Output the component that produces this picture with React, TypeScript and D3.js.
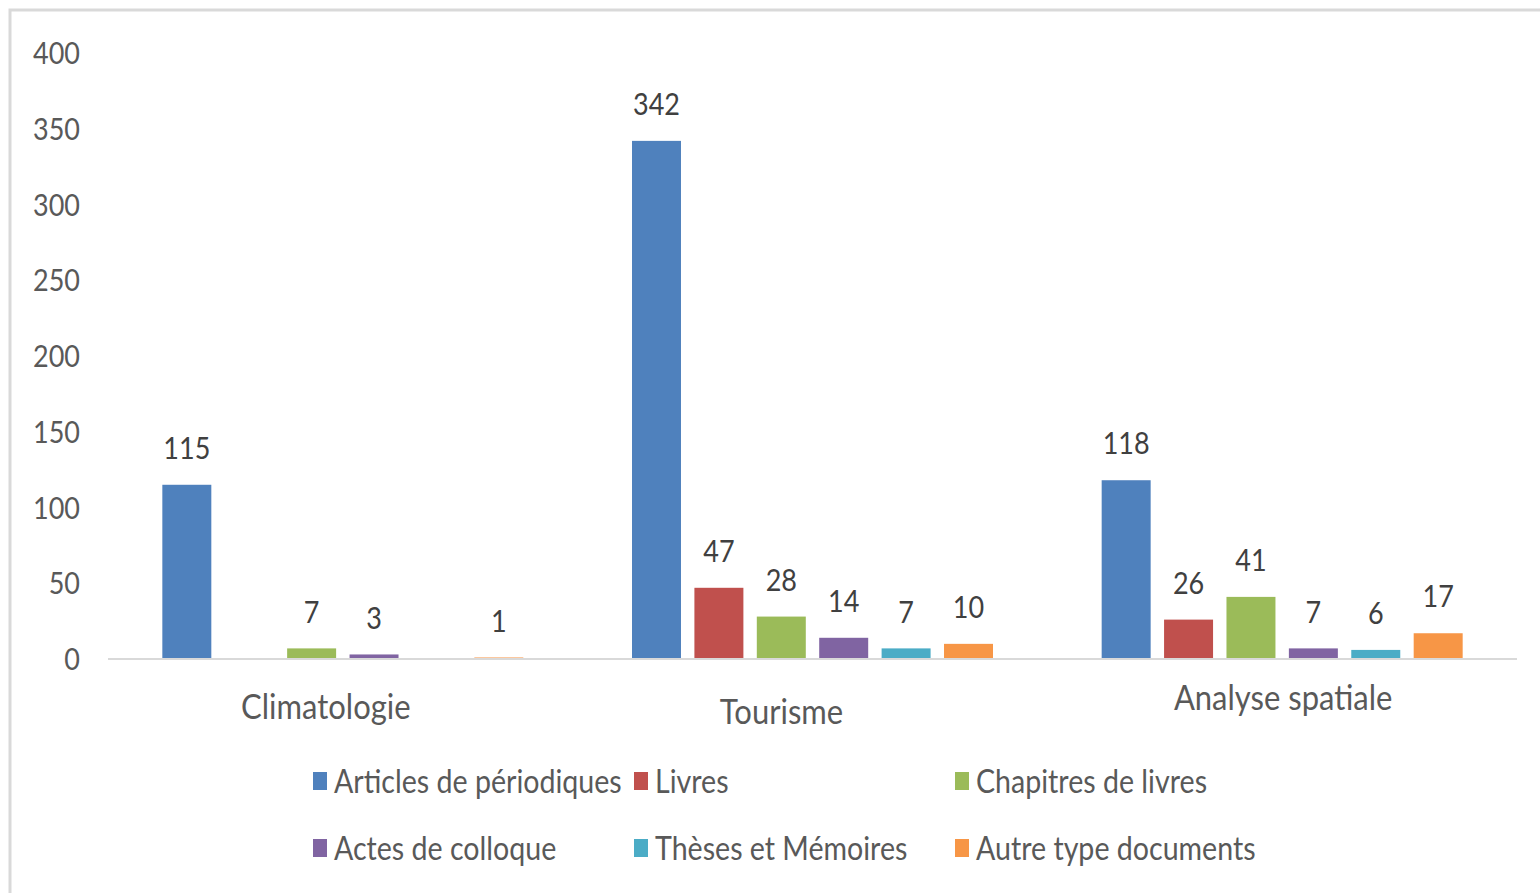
import React from "react";
import * as d3 from "d3";

const categories = ["Climatologie", "Tourisme", "Analyse spatiale"];
const seriesNames = [
  "Articles de périodiques",
  "Livres",
  "Chapitres de livres",
  "Actes de colloque",
  "Thèses et Mémoires",
  "Autre type documents",
];
const articles = [115, 342, 118];
const livres = [null, 47, 26];
const chapitres = [7, 28, 41];
const actes = [3, 14, 7];
const theses = [null, 7, 6];
const autres = [1, 10, 17];
const yTicks = [0, 50, 100, 150, 200, 250, 300, 350, 400];

const seriesValues = [articles, livres, chapitres, actes, theses, autres];
const colors = ["#4F81BD", "#C0504D", "#9BBB59", "#8064A2", "#4BACC6", "#F79646"];
const catLabelNudge = [
  [-17, 47],
  [-31, 52],
  [1, 38],
];

const W = 1540;
const H = 893;
const FONT = "Lato, 'Open Sans', sans-serif";
const TEXT = "#595959";

export default function App() {
  const x0 = d3.scaleBand<string>().domain(categories).range([108, 1517]).paddingInner(0).paddingOuter(0);
  const groupW = 361;
  const x1 = d3
    .scaleBand<number>()
    .domain(d3.range(seriesNames.length))
    .range([0, groupW])
    .paddingInner(0.215)
    .paddingOuter(0);
  const y = d3.scaleLinear().domain([0, 400]).range([659, 53]);
  const baseY = y(0);

  return (
    <svg
      width={W}
      height={H}
      style={{ position: "absolute", left: 0, top: 0, background: "#fff" }}
      fontFamily={FONT}
    >
      <rect x={0} y={0} width={W} height={H} fill="#fff" />
      <path d={`M10,${H} V10 H${W}`} fill="none" stroke="#d9d9d9" strokeWidth={3} />

      {yTicks.map((t) => (
        <text
          key={t}
          x={80}
          y={y(t)}
          dy="0.36em"
          textAnchor="end"
          fontSize={27}
          fill={TEXT}
          transform={`translate(0,${y(t)}) scale(1,1.15) translate(0,${-y(t)})`}
        >
          {t}
        </text>
      ))}

      {categories.map((c, ci) => {
        const gx = (x0(c) as number) + (x0.bandwidth() - groupW) / 2;
        return (
          <g key={c}>
            {seriesValues.map((vals, si) => {
              const v = vals[ci];
              if (v === null || v === undefined) return null;
              const bx = gx + (x1(si) as number);
              const bw = x1.bandwidth();
              const top = y(v);
              const ly = top - 37;
              return (
                <g key={si}>
                  <rect x={bx} y={top} width={bw} height={baseY - top} fill={colors[si]} />
                  <text
                    x={bx + bw / 2}
                    y={ly}
                    dy="0.36em"
                    textAnchor="middle"
                    fontSize={27}
                    fill="#404040"
                    transform={`translate(0,${ly}) scale(1,1.15) translate(0,${-ly})`}
                  >
                    {v}
                  </text>
                </g>
              );
            })}
          </g>
        );
      })}

      <line x1={108} x2={1517} y1={baseY} y2={baseY} stroke="#d9d9d9" strokeWidth={2} />

      {categories.map((c, ci) => {
        const cx = (x0(c) as number) + x0.bandwidth() / 2 + catLabelNudge[ci][0];
        const cy = baseY + catLabelNudge[ci][1];
        return (
          <text
            key={c}
            x={cx}
            y={cy}
            dy="0.36em"
            textAnchor="middle"
            fontSize={31}
            fill={TEXT}
            transform={`translate(0,${cy}) scale(1,1.15) translate(0,${-cy})`}
          >
            {c}
          </text>
        );
      })}

      {seriesNames.map((s, i) => {
        const col = i % 3;
        const row = Math.floor(i / 3);
        const lx = 313 + col * 321;
        const ly = 781 + row * 67;
        return (
          <g key={s}>
            <rect x={lx} y={ly - 9} width={14} height={18} fill={colors[i]} />
            <text
              x={lx + 21}
              y={ly}
              dy="0.36em"
              fontSize={28.6}
              fill={TEXT}
              transform={`translate(0,${ly}) scale(1,1.15) translate(0,${-ly})`}
            >
              {s}
            </text>
          </g>
        );
      })}
    </svg>
  );
}
